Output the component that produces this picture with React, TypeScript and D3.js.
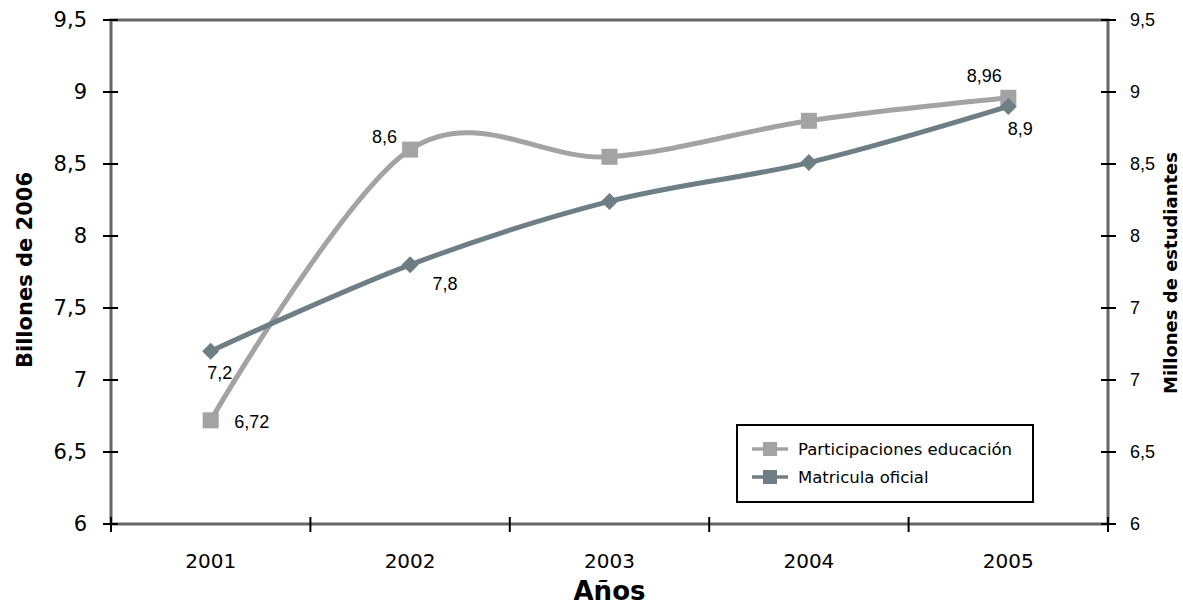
import React from "react";
import * as d3 from "d3";

const years = ["2001", "2002", "2003", "2004", "2005"];
const participaciones = [6.72, 8.6, 8.55, 8.8, 8.96];
const matricula = [7.2, 7.8, 8.24, 8.51, 8.9];
const participacionesLabels = ["6,72", "8,6", "", "", "8,96"];
const matriculaLabels = ["7,2", "7,8", "", "", "8,9"];
const leftTicks = [6, 6.5, 7, 7.5, 8, 8.5, 9, 9.5];
const leftTickLabels = ["6", "6,5", "7", "7,5", "8", "8,5", "9", "9,5"];
const rightTickLabels = ["6", "6,5", "7", "7", "8", "8,5", "9", "9,5"];
const seriesNames = ["Participaciones educación", "Matricula oficial"];

const W = 1183, H = 605;
const L = 111, R = 1108, T = 20, B = 524;
const C1 = "#A3A3A3";
const C2 = "#6D7E85";

export default function App() {
  const x = d3.scaleBand().domain(years).range([L, R]);
  const y = d3.scaleLinear().domain([6, 9.5]).range([B, T]);
  const cx = (i: number) => (x(years[i]) as number) + x.bandwidth() / 2;
  const line = d3
    .line<number>()
    .x((_, i) => cx(i))
    .y((d) => y(d))
    .curve(d3.curveCardinal.tension(0));
  const bounds = years.map((yr) => x(yr) as number).concat([R]);
  const diamond = (px: number, py: number, s: number) =>
    `M${px},${py - s} L${px + s},${py} L${px},${py + s} L${px - s},${py} Z`;
  const pOff: [number, number][] = [[41, 1], [-25.5, -13], [0, 0], [0, 0], [-24, -22]];
  const mOff: [number, number][] = [[9, 21], [35, 19], [0, 0], [0, 0], [12, 22]];

  return (
    <svg width={W} height={H} style={{ display: "block", position: "absolute", left: 0, top: 0 }}>
      <rect width={W} height={H} fill="#fff" />
      <rect x={L} y={T} width={R - L} height={B - T} fill="none" stroke="#666" strokeWidth={3} />
      {leftTicks.map((t, i) => (
        <g key={"l" + i}>
          <line x1={L - 8} x2={L + 7} y1={y(t)} y2={y(t)} stroke="#000" strokeWidth={2} />
          <text x={L - 24} y={y(t)} dy="0.35em" textAnchor="end" fontFamily="DejaVu Sans" fontSize={21} fill="#000">
            {leftTickLabels[i]}
          </text>
          <line x1={R - 7} x2={R + 8} y1={y(t)} y2={y(t)} stroke="#000" strokeWidth={2} />
          <text x={R + 22} y={y(t)} dy="0.35em" textAnchor="start" fontFamily="Liberation Sans, Arial" fontSize={18} fill="#000">
            {rightTickLabels[i]}
          </text>
        </g>
      ))}
      {bounds.map((b, i) => (
        <line key={"b" + i} x1={b} x2={b} y1={B - 7} y2={B + 8} stroke="#000" strokeWidth={2} />
      ))}
      {years.map((yr, i) => (
        <text key={"x" + i} x={cx(i)} y={568} textAnchor="middle" fontFamily="DejaVu Sans" fontSize={20} fill="#000">
          {yr}
        </text>
      ))}
      <text x={(L + R) / 2} y={600} textAnchor="middle" fontFamily="DejaVu Sans" fontWeight="bold" fontSize={26} fill="#000">
        Años
      </text>
      <text transform={`translate(32,270) rotate(-90)`} textAnchor="middle" fontFamily="DejaVu Sans" fontWeight="bold" fontSize={21} fill="#000">
        Billones de 2006
      </text>
      <text transform={`translate(1177,273) rotate(-90)`} textAnchor="middle" fontFamily="DejaVu Sans" fontWeight="bold" fontSize={18} fill="#000">
        Millones de estudiantes
      </text>
      <path d={line(participaciones) || ""} fill="none" stroke={C1} strokeWidth={5} />
      <path d={line(matricula) || ""} fill="none" stroke={C2} strokeWidth={5} />
      {participaciones.map((v, i) => (
        <rect key={"pm" + i} x={cx(i) - 8} y={y(v) - 8} width={16} height={16} fill={C1} />
      ))}
      {matricula.map((v, i) => (
        <path key={"mm" + i} d={diamond(cx(i), y(v), 8.5)} fill={C2} />
      ))}
      {participaciones.map((v, i) =>
        participacionesLabels[i] ? (
          <text key={"pl" + i} x={cx(i) + pOff[i][0]} y={y(v) + pOff[i][1]} dy="0.35em" textAnchor="middle" fontFamily="Liberation Sans, Arial" fontSize={18} fill="#000">
            {participacionesLabels[i]}
          </text>
        ) : null
      )}
      {matricula.map((v, i) =>
        matriculaLabels[i] ? (
          <text key={"ml" + i} x={cx(i) + mOff[i][0]} y={y(v) + mOff[i][1]} dy="0.35em" textAnchor="middle" fontFamily="Liberation Sans, Arial" fontSize={18} fill="#000">
            {matriculaLabels[i]}
          </text>
        ) : null
      )}
      <rect x={737} y={425} width={296} height={77} fill="#fff" stroke="#000" strokeWidth={2} />
      {seriesNames.map((n, i) => {
        const ly = 449 + i * 28;
        const col = i === 0 ? C1 : C2;
        return (
          <g key={"lg" + i}>
            <line x1={752} x2={788} y1={ly} y2={ly} stroke={col} strokeWidth={3.5} />
            <rect x={763} y={ly - 7} width={14} height={14} fill={col} />
            <text x={798} y={ly} dy="0.35em" fontFamily="DejaVu Sans" fontSize={16.5} fill="#000">
              {n}
            </text>
          </g>
        );
      })}
    </svg>
  );
}
